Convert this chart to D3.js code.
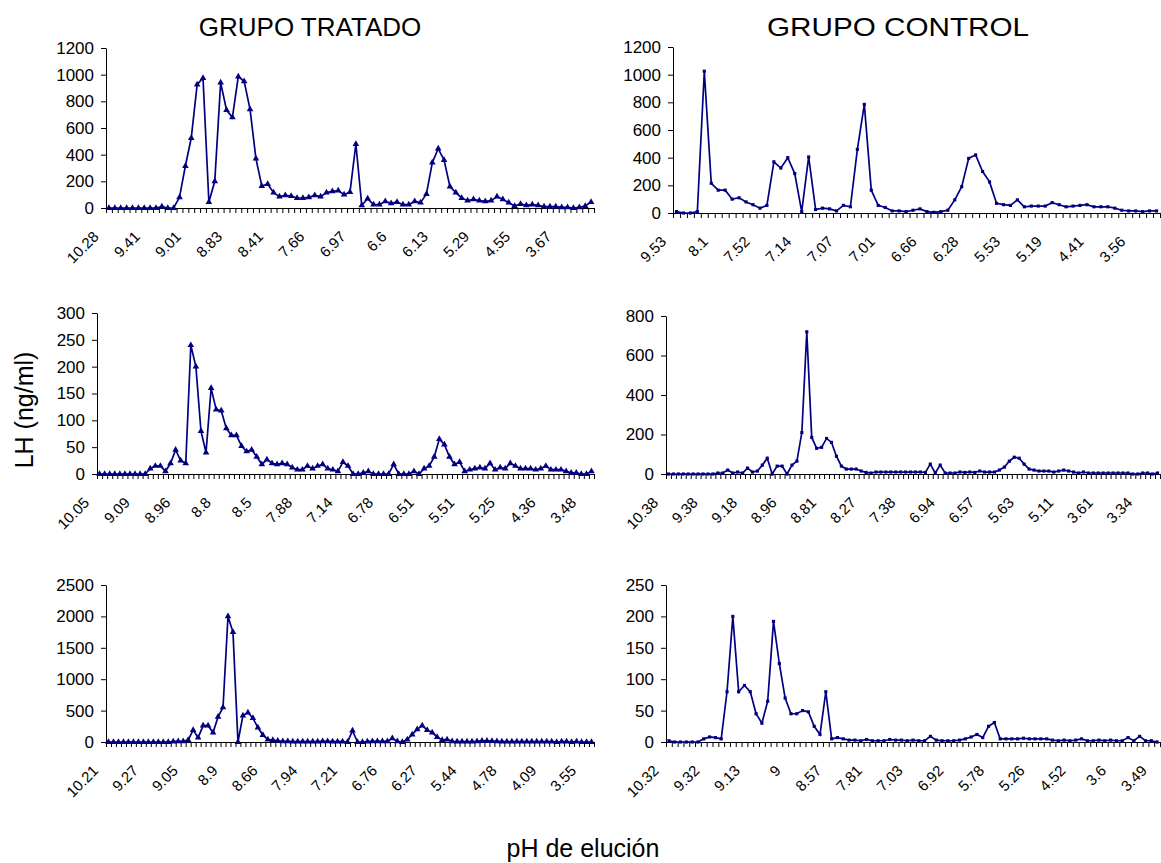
<!DOCTYPE html>
<html>
<head>
<meta charset="utf-8">
<script src="https://cdn.jsdelivr.net/npm/d3@7"></script>
<style>
  body { margin: 0; background: #fff; }
  svg text { font-family: "Liberation Sans", Arial, sans-serif; fill: #000; }
  .axis path, .axis line { stroke: #000; stroke-width: 1; }
  .axis text { font-size: 17px; font-family: "Liberation Sans", Arial, sans-serif; }
  .x-label { font-size: 15px; }
  .series { fill: none; stroke: #000080; stroke-width: 1.7; }
  .marker { fill: #000080; }
  .title { font-size: 26px; }
  .axis-title { font-size: 25px; }
</style>
</head>
<body>
<svg id="chart" width="1161" height="863"></svg>
<script>
// LH (ng/ml) per fraction
const tratado1Values = [0,0,0,0,0,0,0,0,0,10,0,0,80,315,525,925,975,45,200,940,735,680,985,950,740,370,165,180,115,85,95,90,75,75,80,95,85,115,125,130,100,120,480,20,70,25,25,50,35,45,25,25,50,40,105,340,445,360,160,115,75,55,65,55,50,55,85,65,40,15,30,20,25,20,10,10,10,5,5,0,5,15,45];
const tratado1Labels = ['10.28','9.41','9.01','8.83','8.41','7.66','6.97','6.6','6.13','5.29','4.55','3.67'];

const control1Values = [10,0,0,10,1025,215,165,165,100,110,80,60,35,55,370,325,400,285,10,405,25,35,30,15,55,45,460,785,165,55,40,15,15,10,20,30,10,5,10,20,95,190,395,420,300,225,70,60,55,95,45,50,50,50,75,60,45,50,55,60,45,45,45,35,20,15,15,10,15,15];
const control1Labels = ['9.53','8.1','7.52','7.14','7.07','7.01','6.66','6.28','5.53','5.19','4.41','3.56'];

const tratado2Values = [0,0,0,0,0,0,0,0,0,0,10,15,15,5,20,45,25,20,240,200,80,40,160,120,118,85,72,72,52,42,45,32,18,27,20,18,20,18,12,8,8,15,10,15,18,10,8,5,22,15,0,0,2,5,0,0,0,0,18,0,0,0,5,0,10,15,32,65,55,32,18,22,5,8,10,12,10,20,8,12,10,20,15,10,10,10,8,10,15,8,8,8,5,2,2,0,0,5];
const tratado2Labels = ['10.05','9.09','8.96','8.8','8.5','7.88','7.14','6.78','6.51','5.51','5.25','4.36','3.48'];

const control2Values = [0,0,0,0,0,0,0,0,0,0,5,5,20,5,10,5,30,10,15,45,80,0,40,40,0,45,65,210,720,185,130,135,180,160,90,40,25,25,25,15,8,5,10,10,10,10,10,10,10,10,10,10,8,50,5,45,5,5,5,10,8,10,8,15,10,10,10,20,35,65,85,80,50,25,20,15,15,15,10,15,20,15,10,5,10,5,5,5,5,5,5,5,5,5,0,0,5,5,0,5];
const control2Labels = ['10.38','9.38','9.18','8.96','8.81','8.27','7.38','6.94','6.57','5.63','5.11','3.61','3.34'];

const tratado3Values = [0,0,0,0,0,0,0,0,0,0,0,0,0,5,10,10,30,190,70,260,260,150,400,550,2000,1750,0,420,470,380,230,110,40,30,20,10,10,5,5,5,5,5,5,10,10,5,5,5,0,180,0,0,5,10,10,10,10,60,10,0,40,120,200,260,190,150,80,30,40,10,5,5,5,5,10,20,20,15,10,5,5,5,5,5,5,5,5,5,5,5,0,5,5,0,5,0,0,0];
const tratado3Labels = ['10.21','9.27','9.05','8.9','8.66','7.94','7.21','6.76','6.27','5.44','4.78','4.09','3.55'];

const control3Values = [2,0,0,0,0,0,5,8,7,5,80,200,80,90,80,45,30,65,192,125,70,45,45,50,48,25,12,80,5,7,5,3,3,2,4,2,2,2,4,3,3,2,3,2,2,9,3,2,2,2,3,5,8,12,7,25,31,5,5,5,5,6,5,5,5,5,3,2,3,2,3,5,2,2,3,2,3,2,2,7,2,9,2,2,0];
const control3Labels = ['10.32','9.32','9.13','9','8.57','7.81','7.03','6.92','5.78','5.26','4.52','3.6','3.49'];

const svg = d3.select('#chart');

class LinePanel {

    constructor(_config, _values, _labels) {
        this.config = {
            left: _config.left,
            right: _config.right,
            top: _config.top,
            bottom: _config.bottom,
            yMax: _config.yMax,
            yStep: _config.yStep,
            labelStep: _config.labelStep,
            marker: _config.marker
        };
        this.values = _values;
        this.labels = _labels;
        this.initVis();
    }

    initVis() {
        let vis = this;
        const n = vis.values.length;

        // categories sit between tick marks, like the spreadsheet chart
        vis.xScale = d3.scaleLinear()
            .domain([0, n])
            .range([vis.config.left, vis.config.right]);

        vis.yScale = d3.scaleLinear()
            .domain([0, vis.config.yMax])
            .range([vis.config.bottom, vis.config.top]);

        vis.xAxis = d3.axisBottom(vis.xScale)
            .tickValues(d3.range(n + 1))
            .tickFormat('')
            .tickSize(5)
            .tickSizeOuter(0);

        vis.yAxis = d3.axisLeft(vis.yScale)
            .tickValues(d3.range(0, vis.config.yMax + 1, vis.config.yStep))
            .tickFormat(d3.format('d'))
            .tickSize(5)
            .tickSizeOuter(0)
            .tickPadding(7);

        vis.g = svg.append('g');

        vis.g.append('g')
            .attr('class', 'axis x-axis')
            .attr('transform', `translate(0,${vis.config.bottom})`)
            .call(vis.xAxis);

        vis.g.append('g')
            .attr('class', 'axis y-axis')
            .attr('transform', `translate(${vis.config.left},0)`)
            .call(vis.yAxis);

        vis.renderVis();
    }

    renderVis() {
        let vis = this;
        const step = vis.config.labelStep;

        // rotated category labels, one every few fractions
        vis.g.selectAll('.x-label')
            .data(vis.labels)
            .join('text')
            .attr('class', 'x-label')
            .attr('text-anchor', 'end')
            .attr('dy', '0.35em')
            .attr('transform', (d, i) => `translate(${vis.xScale(i * step + 0.5) - 13},${vis.config.bottom + 26}) rotate(-45)`)
            .text(d => d);

        const line = d3.line()
            .x((d, i) => vis.xScale(i + 0.5))
            .y(d => vis.yScale(d));

        vis.g.append('path')
            .datum(vis.values)
            .attr('class', 'series')
            .attr('d', line);

        const symbol = d3.symbol()
            .type(vis.config.marker === 'triangle' ? d3.symbolTriangle : d3.symbolSquare)
            .size(vis.config.marker === 'triangle' ? 19 : 10);

        vis.g.selectAll('.marker')
            .data(vis.values)
            .join('path')
            .attr('class', 'marker')
            .attr('transform', (d, i) => `translate(${vis.xScale(i + 0.5)},${vis.yScale(d)})`)
            .attr('d', symbol);
    }
}

new LinePanel({ left: 106, right: 594, top: 48, bottom: 208, yMax: 1200, yStep: 200, labelStep: 7, marker: 'triangle' }, tratado1Values, tratado1Labels);
new LinePanel({ left: 673, right: 1160, top: 47, bottom: 213, yMax: 1200, yStep: 200, labelStep: 6, marker: 'square' }, control1Values, control1Labels);
new LinePanel({ left: 97, right: 594, top: 313, bottom: 474, yMax: 300, yStep: 50, labelStep: 8, marker: 'triangle' }, tratado2Values, tratado2Labels);
new LinePanel({ left: 666, right: 1160, top: 316, bottom: 474, yMax: 800, yStep: 200, labelStep: 8, marker: 'square' }, control2Values, control2Labels);
new LinePanel({ left: 106, right: 594, top: 585, bottom: 742, yMax: 2500, yStep: 500, labelStep: 8, marker: 'triangle' }, tratado3Values, tratado3Labels);
new LinePanel({ left: 666, right: 1160, top: 585, bottom: 742, yMax: 250, yStep: 50, labelStep: 7, marker: 'square' }, control3Values, control3Labels);

// titles
svg.append('text')
    .attr('class', 'title')
    .attr('x', 310)
    .attr('y', 36)
    .attr('text-anchor', 'middle')
    .text('GRUPO TRATADO');

svg.append('text')
    .attr('class', 'title')
    .attr('x', 898)
    .attr('y', 36)
    .attr('text-anchor', 'middle')
    .attr('textLength', 262)
    .attr('lengthAdjust', 'spacingAndGlyphs')
    .text('GRUPO CONTROL');

svg.append('text')
    .attr('class', 'axis-title')
    .attr('transform', 'translate(33,410) rotate(-90)')
    .attr('text-anchor', 'middle')
    .text('LH (ng/ml)');

svg.append('text')
    .attr('class', 'axis-title')
    .attr('x', 583)
    .attr('y', 857)
    .attr('text-anchor', 'middle')
    .text('pH de elución');
</script>
</body>
</html>
